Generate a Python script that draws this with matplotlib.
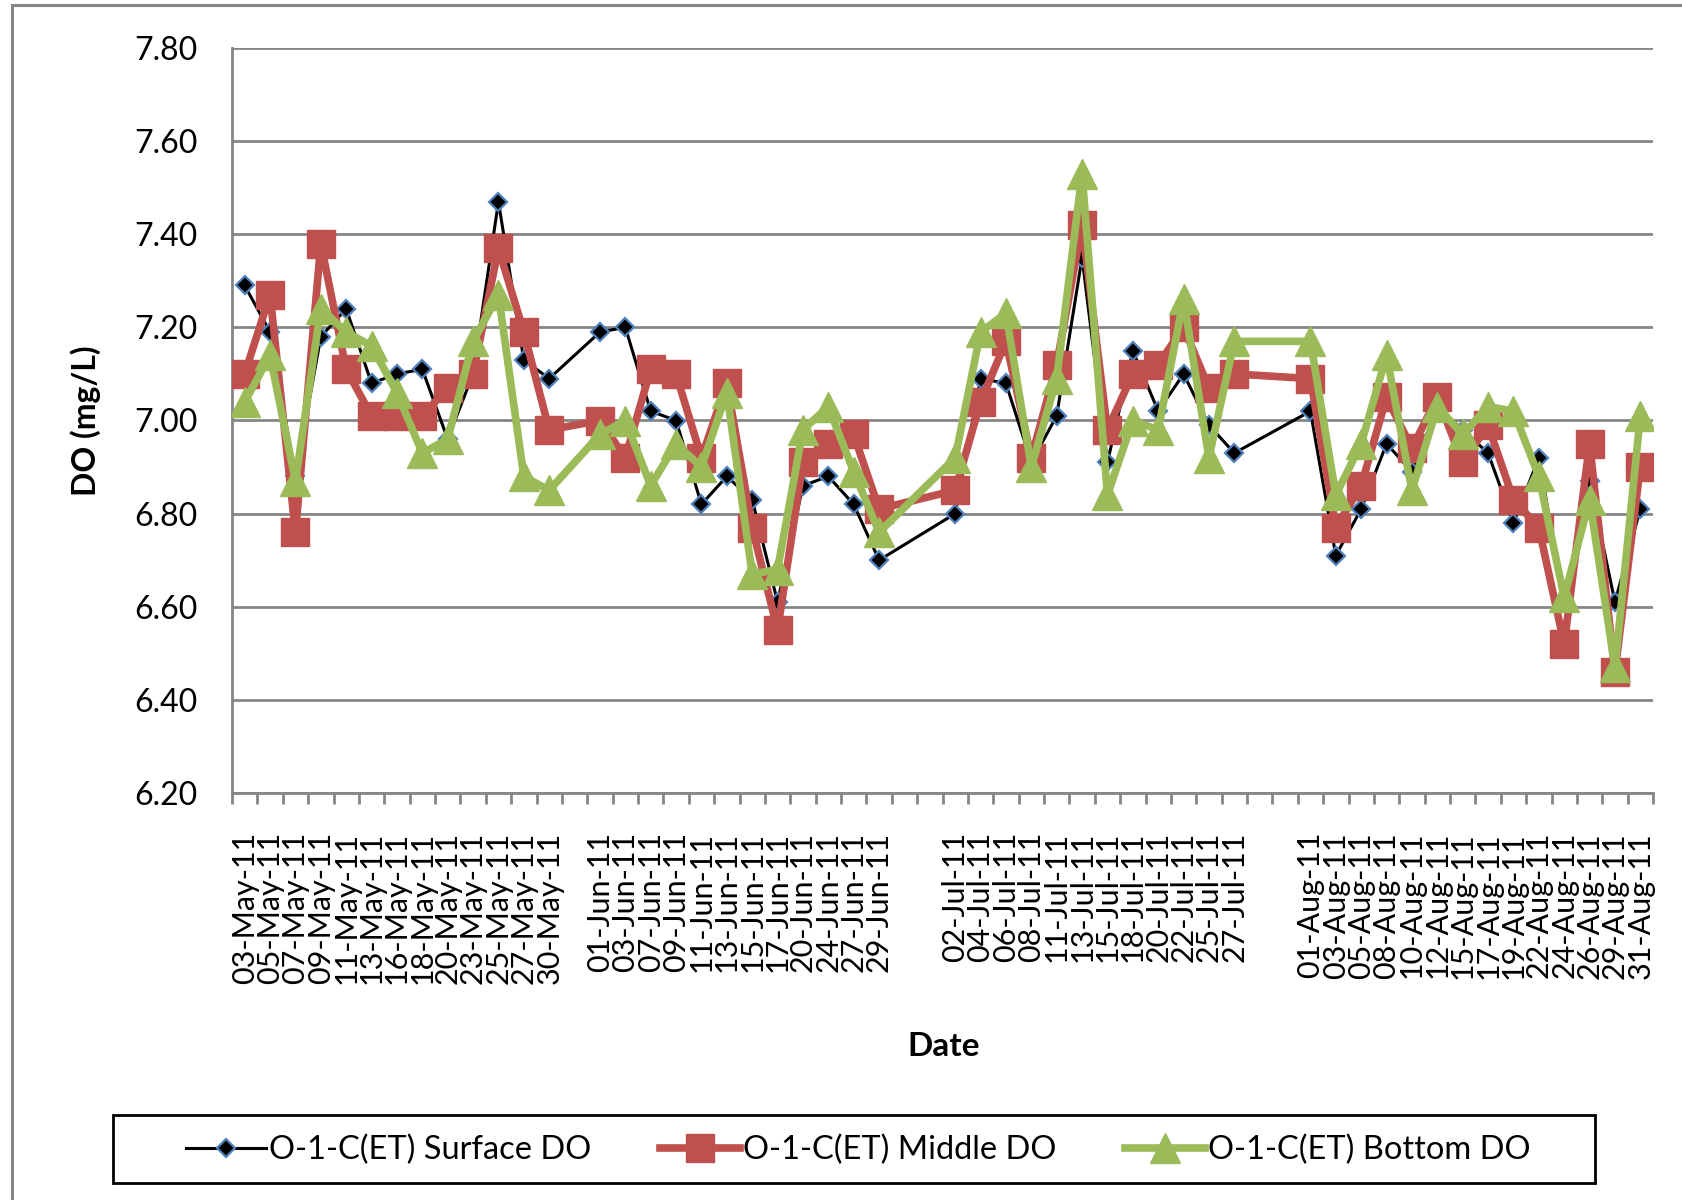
import numpy as np
import matplotlib
matplotlib.use('Agg')
import matplotlib.pyplot as plt
from matplotlib.patches import Rectangle

plt.rcParams['font.family'] = ['Lato', 'DejaVu Sans']

# sampling dates ('' = empty category slot on the axis)
dates = ['03-May-11', '05-May-11', '07-May-11', '09-May-11', '11-May-11', '13-May-11', '16-May-11',
         '18-May-11', '20-May-11', '23-May-11', '25-May-11', '27-May-11', '30-May-11', '',
         '01-Jun-11', '03-Jun-11', '07-Jun-11', '09-Jun-11', '11-Jun-11', '13-Jun-11', '15-Jun-11',
         '17-Jun-11', '20-Jun-11', '24-Jun-11', '27-Jun-11', '29-Jun-11', '', '',
         '02-Jul-11', '04-Jul-11', '06-Jul-11', '08-Jul-11', '11-Jul-11', '13-Jul-11', '15-Jul-11',
         '18-Jul-11', '20-Jul-11', '22-Jul-11', '25-Jul-11', '27-Jul-11', '', '',
         '01-Aug-11', '03-Aug-11', '05-Aug-11', '08-Aug-11', '10-Aug-11', '12-Aug-11', '15-Aug-11',
         '17-Aug-11', '19-Aug-11', '22-Aug-11', '24-Aug-11', '26-Aug-11', '29-Aug-11', '31-Aug-11']

nan = np.nan
surface = [7.29, 7.19, 6.88, 7.18, 7.24, 7.08, 7.10, 7.11, 6.96, 7.10, 7.47, 7.13, 7.09, nan,
           7.19, 7.20, 7.02, 7.00, 6.82, 6.88, 6.83, 6.61, 6.86, 6.88, 6.82, 6.70, nan, nan,
           6.80, 7.09, 7.08, 6.91, 7.01, 7.35, 6.91, 7.15, 7.02, 7.10, 6.99, 6.93, nan, nan,
           7.02, 6.71, 6.81, 6.95, 6.89, 7.03, 6.98, 6.93, 6.78, 6.92, 6.61, 6.87, 6.61, 6.81]
middle = [7.10, 7.27, 6.76, 7.38, 7.11, 7.01, 7.01, 7.01, 7.07, 7.10, 7.37, 7.19, 6.98, nan,
          7.00, 6.92, 7.11, 7.10, 6.92, 7.08, 6.77, 6.55, 6.91, 6.95, 6.97, 6.81, nan, nan,
          6.85, 7.04, 7.17, 6.92, 7.12, 7.42, 6.98, 7.10, 7.12, 7.20, 7.07, 7.10, nan, nan,
          7.09, 6.77, 6.86, 7.05, 6.94, 7.05, 6.91, 6.99, 6.83, 6.77, 6.52, 6.95, 6.46, 6.90]
bottom = [7.04, 7.14, 6.87, 7.24, 7.19, 7.16, 7.06, 6.93, 6.96, 7.17, 7.27, 6.88, 6.85, nan,
          6.97, 7.00, 6.86, 6.95, 6.90, 7.06, 6.67, 6.68, 6.98, 7.03, 6.89, 6.76, nan, nan,
          6.92, 7.19, 7.23, 6.90, 7.09, 7.53, 6.84, 7.00, 6.98, 7.26, 6.92, 7.17, nan, nan,
          7.17, 6.84, 6.95, 7.14, 6.85, 7.03, 6.97, 7.03, 7.02, 6.88, 6.62, 6.83, 6.47, 7.01]

grey = '#868686'
fig = plt.figure(figsize=(16.82, 12), dpi=100)
ax = fig.add_axes([232 / 1682, 1 - 793 / 1200, (1653 - 232) / 1682, (793 - 48) / 1200])

x = np.arange(len(dates))

def draw(vals, **kw):
    v = np.array(vals, dtype=float)
    ok = ~np.isnan(v)
    ax.plot(x[ok], v[ok], **kw)

draw(surface, color='black', lw=2.2, marker='D', ms=9.5, mfc='black', mec='#4F81BD', mew=1.6,
     label='O-1-C(ET) Surface DO', zorder=3)
draw(middle, color='#C0504D', lw=5.5, marker='s', ms=20, mfc='#C0504D', mec='#C0504D',
     label='O-1-C(ET) Middle DO', zorder=4)
draw(bottom, color='#9BBB59', lw=5.5, marker='^', ms=21, mfc='#9BBB59', mec='#9BBB59',
     label='O-1-C(ET) Bottom DO', zorder=5)

ax.set_xlim(-0.5, len(dates) - 0.5)
ax.set_ylim(6.2, 7.8)
ax.set_yticks(np.arange(6.2, 7.81, 0.2))
ax.set_yticklabels(['%.2f' % t for t in np.arange(6.2, 7.81, 0.2)])
ax.grid(axis='y', color=grey, lw=2)
ax.set_axisbelow(True)

ax.set_xticks(x)
ax.set_xticklabels(dates, rotation=90, va='top', ha='center')
ax.set_xticks(np.arange(-0.5, len(dates)), minor=True)
ax.tick_params(axis='x', which='major', length=0, pad=28, labelsize=22)
ax.tick_params(axis='x', which='minor', length=8, width=2, color=grey)
ax.tick_params(axis='y', length=0, pad=25, labelsize=23)

for s in ['top', 'right']:
    ax.spines[s].set_visible(False)
for s in ['left', 'bottom']:
    ax.spines[s].set_color(grey)
    ax.spines[s].set_linewidth(2)

fig.text(86 / 1682, 1 - 421 / 1200, 'DO (mg/L)', rotation=90, ha='center', va='center',
         fontsize=23, fontweight='bold')
fig.text(944 / 1682, 1 - 1046 / 1200, 'Date', ha='center', va='center',
         fontsize=24, fontweight='bold')

# chart area border and legend box
fig.add_artist(Rectangle((12 / 1682, -0.1), 1.2, 1.1 - 5 / 1200, transform=fig.transFigure,
                         fill=False, edgecolor=grey, lw=2.2))
fig.add_artist(Rectangle((113 / 1682, 1 - 1183 / 1200), (1595 - 113) / 1682, 68 / 1200,
                         transform=fig.transFigure, fill=False, edgecolor='black', lw=2))
fig.legend(loc='center', bbox_to_anchor=(858 / 1682, 1 - 1150 / 1200), ncol=3, frameon=False,
           fontsize=23.5, handlelength=2.45, handletextpad=0.1, columnspacing=2.1, numpoints=1)

fig.savefig('out.png', dpi=100)
